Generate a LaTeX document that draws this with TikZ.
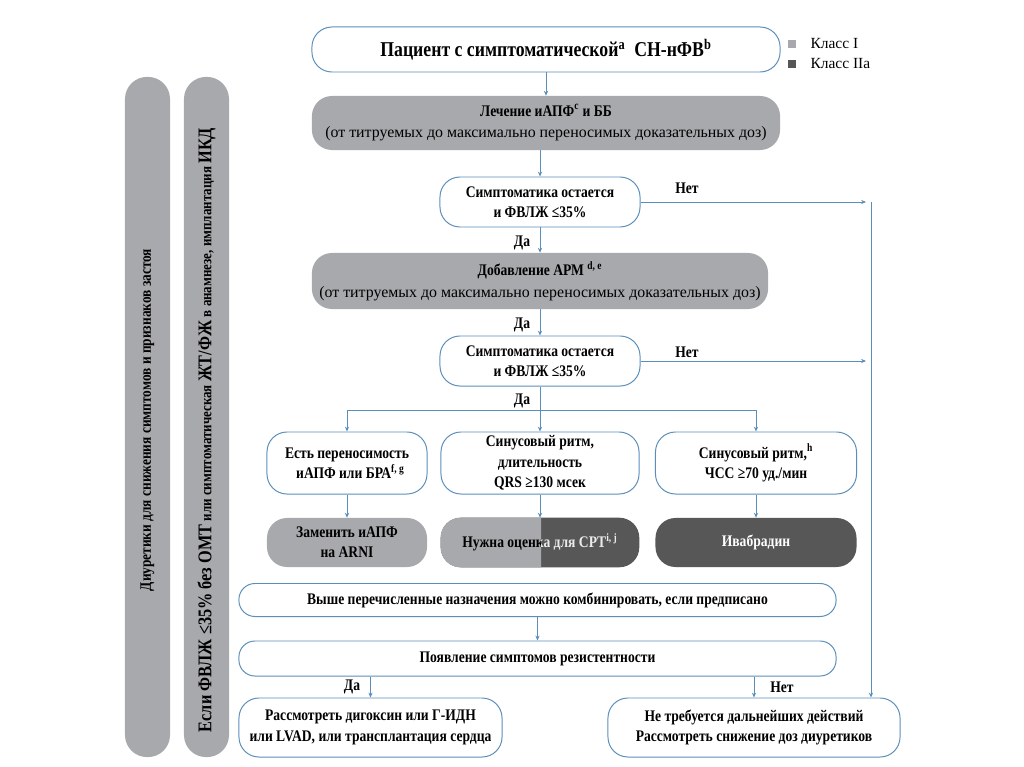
\documentclass[tikz,border=0pt]{standalone}
\usepackage{fontspec}
\setmainfont{Liberation Serif}
\newfontfamily\condfont[FakeStretch=0.84]{Liberation Serif}
\usetikzlibrary{positioning,arrows.meta}

\definecolor{flowblue}{HTML}{5B8FBA}
\definecolor{classI}{HTML}{A8A9AC}
\definecolor{classIIa}{HTML}{575757}

\newcommand{\plainline}{\normalfont\fontsize{11.3}{15}\selectfont}
\newcommand{\smallbar}{\fontsize{11}{13}\selectfont}
\newcommand{\bigbar}{\fontsize{13.8}{16}\selectfont}

\begin{document}
\begin{tikzpicture}[
    x=0.025cm, y=-0.025cm,
    every node/.append style={align=center,inner sep=0pt,
        font=\condfont\bfseries\fontsize{11.5}{14.5}\selectfont},
    pill/.style={draw=flowblue,fill=white,line width=0.7pt,rounded corners=0.5cm},
    greypill/.style={fill=classI,rounded corners=0.5cm},
    darkpill/.style={fill=classIIa,text=white,rounded corners=0.5cm},
    bar/.style={fill=classI,rounded corners=0.55cm,minimum width=1.125cm,minimum height=17cm},
    link/.style={draw=flowblue,line width=0.7pt,-{Stealth[length=3.5pt,width=3pt]}},
    plain/.style={draw=flowblue,line width=0.7pt},
    answer/.style={font=\condfont\bfseries\fontsize{11.5}{14}\selectfont}
]
\path[fill=white,use as bounding box] (0,0) rectangle (1024,767);

% side bars
\node[bar] (diurbar) at (147.5,417) {};
\node[bar] (icdbar)  at (206.5,417) {};
\node[rotate=90,font=\condfont\bfseries\fontsize{11.3}{13}\selectfont] (diurtxt) at (diurbar.center |- 0,420)
    {Диуретики для снижения симптомов и признаков застоя};
\node[rotate=90,font=\condfont\bfseries\smallbar] (icdtxt) at (icdbar.center |- 0,430)
    {{\bigbar Если ФВЛЖ ≤35\% без ОМТ} или симптоматическая {\bigbar ЖТ/ФЖ} в анамнезе, имплантация {\bigbar ИКД}};

% legend
\node[fill=classI,minimum size=0.2cm]    (legI)   at (792,44) {};
\node[fill=classIIa,minimum size=0.2cm]  (legIIa) at (792,64) {};
\node[right=0.35cm of legI,anchor=west,font=\normalfont\fontsize{11}{13}\selectfont]   (legItxt)   {Класс I};
\node[right=0.35cm of legIIa,anchor=west,font=\normalfont\fontsize{11}{13}\selectfont] (legIIatxt) {Класс IIa};

% main column
\node[pill,minimum width=11.7cm,minimum height=1.125cm,
      font=\condfont\bfseries\fontsize{15}{18}\selectfont] (start) at (546,49.5)
    {Пациент с симптоматической\textsuperscript{a}\ \ СН-нФВ\textsuperscript{b}};
\node[greypill,minimum width=11.7cm,minimum height=1.35cm] (treat) at (546,123)
    {Лечение иАПФ\textsuperscript{c} и ББ\\[1pt] {\plainline (от титруемых до максимально переносимых доказательных доз)}};
\node[pill,minimum width=5cm,minimum height=1.25cm] (sym1) at (540,202)
    {Симптоматика остается\\и ФВЛЖ ≤35\%};
\node[greypill,minimum width=11.4cm,minimum height=1.4cm] (arm) at (540,281)
    {Добавление АРМ \textsuperscript{d, e}\\[1pt] {\plainline (от титруемых до максимально переносимых доказательных доз)}};
\node[pill,minimum width=5cm,minimum height=1.25cm] (sym2) at (540,361)
    {Симптоматика остается\\и ФВЛЖ ≤35\%};

% three branches
\node[pill,minimum width=4cm,minimum height=1.55cm]   (tol) at (347,463)
    {Есть переносимость\\ \ \ иАПФ или БРА\textsuperscript{f, g}};
\node[pill,minimum width=4.95cm,minimum height=1.55cm] (qrs) at (540,463)
    {Синусовый ритм,\\длительность\\QRS ≥130 мсек};
\node[pill,minimum width=5.025cm,minimum height=1.55cm] (hr)  at (756,463)
    {Синусовый ритм,\textsuperscript{h}\\ЧСС ≥70 уд./мин};

\node[greypill,minimum width=4cm,minimum height=1.225cm] (arni) at (347,542.5)
    {Заменить иАПФ\\на ARNI};
\node[minimum width=4.95cm,minimum height=1.225cm] (crt) at (540,542.5) {};
\fill[classIIa,rounded corners=0.5cm] (crt.south west) rectangle (crt.north east);
\begin{scope}
    \clip (crt.north west) rectangle (541,580);
    \fill[classI,rounded corners=0.5cm] (crt.south west) rectangle (crt.north east);
    \node (crtL) at (crt.center) {Нужна оценка для СРТ\textsuperscript{i, j}};
\end{scope}
\begin{scope}
    \clip (541,500) rectangle (crt.south east);
    \node[text=white!92!black] (crtR) at (crt.center) {Нужна оценка для СРТ\textsuperscript{i, j}};
\end{scope}
\node[darkpill,minimum width=5.025cm,minimum height=1.225cm] (ivab) at (756,542.5) {Ивабрадин};

% lower part
\node[pill,minimum width=14.925cm,minimum height=0.825cm,rounded corners=0.4cm] (combo) at (537.5,600)
    {Выше перечисленные назначения можно комбинировать, если предписано};
\node[pill,minimum width=14.925cm,minimum height=0.875cm,rounded corners=0.4cm] (resist) at (537.5,658.5)
    {Появление симптомов резистентности};
\node[pill,minimum width=6.575cm,minimum height=1.475cm] (adv) at (370.5,727.5)
    {Рассмотреть дигоксин или Г-ИДН\\или LVAD, или трансплантация сердца};
\node[pill,minimum width=7.3cm,minimum height=1.475cm] (nothing) at (754,727.5)
    {Не требуется дальнейших действий\\Рассмотреть снижение доз диуретиков};

% answers
\node[answer] (yes1) at (522,243) {Да};
\node[answer] (yes2) at (522,325) {Да};
\node[answer] (yes3) at (522,401) {Да};
\node[answer] (no1)  at (687,188) {Нет};
\node[answer] (no2)  at (687,352) {Нет};
\node[answer] (yes4) at (352,687) {Да};
\node[answer] (no3)  at (782,687) {Нет};

% connectors
\coordinate (fork)  at (540,410);
\coordinate (rail1) at (866,202);
\coordinate (rail2) at (866,361);
\coordinate (railtop) at (871,202);
\draw[link] (start) -- (treat);
\draw[link] (treat.south -| sym1.north) -- (sym1);
\draw[link] (sym1) -- (arm);
\draw[link] (arm.south -| sym2.north) -- (sym2);
\draw[plain] (sym2.south) -- (fork);
\draw[link] (fork) -| (tol.north);
\draw[link] (fork) -- (qrs.north);
\draw[link] (fork) -| (hr.north);
\draw[link] (tol) -- (arni);
\draw[link] (qrs) -- (crt);
\draw[link] (hr) -- (ivab);
\draw[link] (combo) -- (resist.north -| combo.south);
\draw[link] (resist.south -| adv.north) -- (adv.north);
\draw[link] (resist.south -| nothing.north) -- (nothing.north);
\draw[link] (sym1.east) -- (rail1);
\draw[link] (sym2.east) -- (rail2);
\draw[link] (railtop) -- (railtop |- nothing.north);
\end{tikzpicture}
\end{document}
